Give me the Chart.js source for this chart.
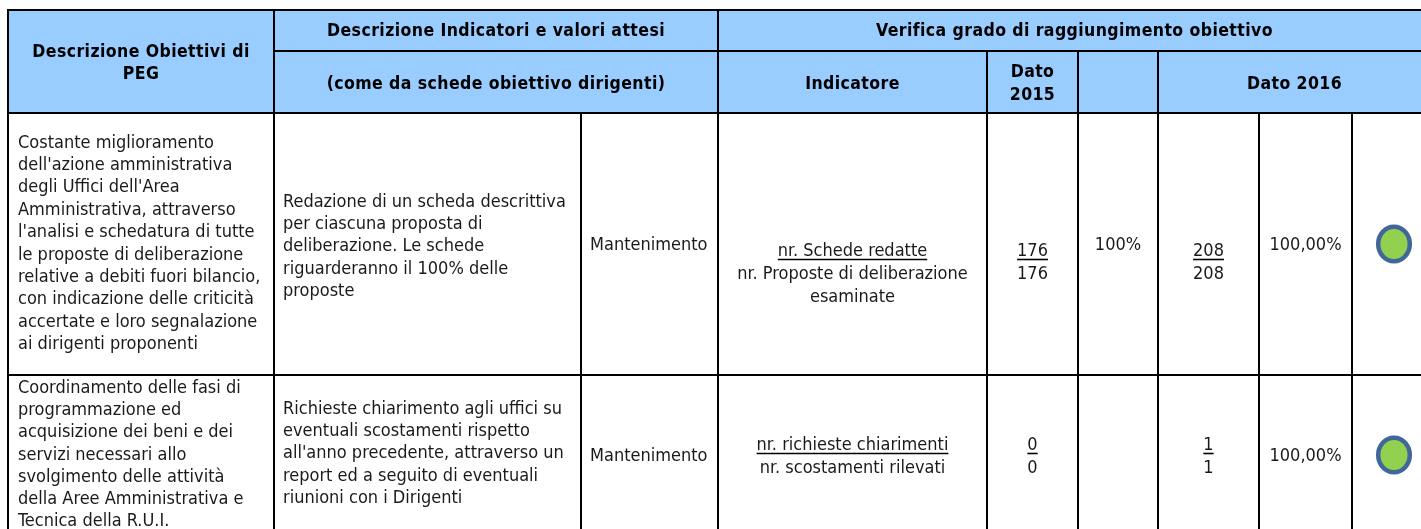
<!DOCTYPE html>
<html><head><meta charset="utf-8">
<style>html,body{margin:0;padding:0;background:#fff;overflow:hidden}canvas{display:block}</style>
<script src="https://cdn.jsdelivr.net/npm/chart.js@4"></script></head>
<body><canvas id="c" width="1421" height="529"></canvas>
<script>
// ---- data ----
const headObjective = ["Descrizione Obiettivi di","PEG"];
const headIndicators = "Descrizione Indicatori e valori attesi";
const headIndicatorsSub = "(come da schede obiettivo dirigenti)";
const headCheck = "Verifica grado di raggiungimento obiettivo";
const headIndicator = "Indicatore";
const head2015 = ["Dato","2015"];
const head2016 = "Dato 2016";
const objectives = [
 ["Costante miglioramento","dell'azione amministrativa","degli Uffici dell'Area","Amministrativa, attraverso","l'analisi e schedatura di tutte","le proposte di deliberazione","relative a debiti fuori bilancio,","con indicazione delle criticità","accertate e loro segnalazione","ai dirigenti proponenti"],
 ["Coordinamento delle fasi di","programmazione ed","acquisizione dei beni e dei","servizi necessari allo","svolgimento delle attività","della Aree Amministrativa e","Tecnica della R.U.I."]
];
const descriptions = [
 ["Redazione di un scheda descrittiva","per ciascuna proposta di","deliberazione. Le schede","riguarderanno il 100% delle","proposte"],
 ["Richieste chiarimento agli uffici su","eventuali scostamenti rispetto","all'anno precedente, attraverso un","report ed a seguito di eventuali","riunioni con i Dirigenti"]
];
const targets = ["Mantenimento","Mantenimento"];
const indicatorNum = ["nr. Schede redatte","nr. richieste chiarimenti"];
const indicatorDen = [["nr. Proposte di deliberazione","esaminate"],["nr. scostamenti rilevati"]];
const num2015 = ["176","0"];
const den2015 = ["176","0"];
const pct2015 = ["100%",""];
const num2016 = ["208","1"];
const den2016 = ["208","1"];
const pct2016 = ["100,00%","100,00%"];
const statusFill = ["#92d050","#92d050"];

// ---- layout of the table ----
const W=1421,H=529;
const X={l:8,a:274,b:581,c:718,d:987,e:1078,f:1158,g:1259,h:1352,r:1440};
const Y={t:10,m:51,b:113,r:375,e:600};
const LH=22.4;
const FONT='"DejaVu Sans Condensed","DejaVu Sans"';
const BODY='18px '+FONT, BOLD='bold 17.5px '+FONT;
const rowText=[245.5,456];
const rowDot=[244,455];

const tablePlugin={id:'table',beforeDatasetsDraw(ch){
  const c=ch.ctx;
  c.save();
  c.fillStyle='#99ccff';c.fillRect(X.l,Y.t,W-X.l,Y.b-Y.t);
  c.strokeStyle='#000';c.lineWidth=2;
  const line=(x1,y1,x2,y2)=>{c.beginPath();c.moveTo(x1,y1);c.lineTo(x2,y2);c.stroke();};
  [Y.t,Y.b,Y.r].forEach(y=>line(X.l-1,y,W,y));
  line(X.a,Y.m,W,Y.m);
  line(X.l,Y.t,X.l,H);line(X.a,Y.t,X.a,H);line(X.c,Y.t,X.c,H);
  [X.d,X.e,X.f].forEach(x=>line(x,Y.m,x,H));
  [X.b,X.g,X.h].forEach(x=>line(x,Y.b,x,H));
  c.textBaseline='middle';c.fillStyle='#000';
  const txt=(s,x,y,align,font,ls)=>{c.font=font;c.textAlign=align;c.letterSpacing=ls||'0px';c.fillText(s,x,y);};
  const head=(s,x,y)=>txt(s,x,y,'center',BOLD,'0.42px');
  head(headObjective[0],(X.l+X.a)/2,52);head(headObjective[1],(X.l+X.a)/2,74);
  head(headIndicators,(X.a+X.c)/2,31);head(headIndicatorsSub,(X.a+X.c)/2,84);
  head(headCheck,(X.c+1431)/2,31);head(headIndicator,(X.c+X.d)/2,84);
  head(head2015[0],(X.d+X.e)/2,72);head(head2015[1],(X.d+X.e)/2,95);
  head(head2016,(X.f+1431)/2,84);
  c.fillStyle='#1a1a1a';
  objectives.forEach((ls,i)=>{const y0=i?388:143;ls.forEach((s,k)=>txt(s,18,y0+k*(i?22.3:LH),'left',BODY));});
  descriptions.forEach((ls,i)=>{const y0=i?409:202;ls.forEach((s,k)=>txt(s,283,y0+k*LH,'left',BODY));});
  targets.forEach((s,i)=>txt(s,590,rowText[i],'left',BODY));
  const under=(s,cx,y)=>{txt(s,cx,y,'center',BODY);const w=c.measureText(s).width;c.lineWidth=1.6;c.strokeStyle='#000';c.beginPath();c.moveTo(cx-w/2,y+8.5);c.lineTo(cx+w/2,y+8.5);c.stroke();};
  const cxI=(X.c+X.d)/2;
  indicatorNum.forEach((s,i)=>{const y=i?445:251;under(s,cxI,y);indicatorDen[i].forEach((d,k)=>txt(d,cxI,y+23+k*23,'center',BODY));});
  num2015.forEach((s,i)=>{const y=i?445:251;under(s,(X.d+X.e)/2,y);txt(den2015[i],(X.d+X.e)/2,y+23,'center',BODY);});
  pct2015.forEach((s,i)=>{if(s)txt(s,(X.e+X.f)/2,rowText[i],'center',BODY);});
  num2016.forEach((s,i)=>{const y=i?445:251;under(s,(X.f+X.g)/2,y);txt(den2016[i],(X.f+X.g)/2,y+23,'center',BODY);});
  pct2016.forEach((s,i)=>txt(s,(X.g+X.h)/2,rowText[i],'center',BODY));
  c.restore();
}};

function dot(fill){const o=document.createElement('canvas');o.width=38;o.height=42;const g=o.getContext('2d');
  g.beginPath();g.ellipse(19,21,15.8,17.3,0,0,Math.PI*2);g.fillStyle=fill;g.fill();g.lineWidth=4.5;g.strokeStyle='#41679a';g.stroke();return o;}

new Chart(document.getElementById('c'),{
  type:'scatter',
  data:{datasets:[{
    data:statusFill.map((f,i)=>({x:(X.h+1436)/2,y:rowDot[i]})),
    pointStyle:statusFill.map(dot),pointRadius:18,showLine:false
  }]},
  options:{responsive:false,animation:false,events:[],layout:{padding:0,autoPadding:false},
    plugins:{legend:{display:false},tooltip:{enabled:false}},
    scales:{x:{type:'linear',display:false,min:0,max:W},y:{type:'linear',display:false,min:0,max:H,reverse:true}}},
  plugins:[tablePlugin]
});
</script></body></html>
